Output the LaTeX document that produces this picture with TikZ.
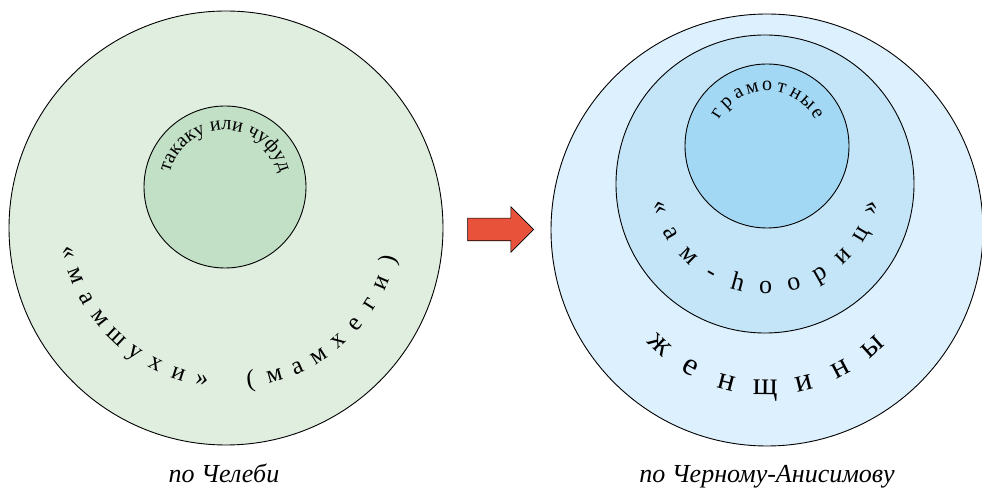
\documentclass[tikz,border=0pt]{standalone}
\usepackage{fontspec}
\setmainfont{Liberation Serif}
\usepackage{xcolor}
\usetikzlibrary{shapes.arrows, decorations.text}

\definecolor{greenout}{HTML}{DFEEDF}
\definecolor{greenin}{HTML}{C2E0C6}
\definecolor{blueout}{HTML}{DDF0FD}
\definecolor{bluemid}{HTML}{C4E5F8}
\definecolor{bluein}{HTML}{A2D8F4}
\definecolor{arrowred}{HTML}{E8513A}

\begin{document}
\begin{tikzpicture}[x=1pt, y=1pt,
    ring/.style={draw=black, line width=0.9pt},
    spaced/.style={anchor=base, inner sep=0pt, font=\fontsize{25}{27}\selectfont},
    caption/.style={anchor=base, inner sep=0pt, font=\fontsize{26}{28}\selectfont\itshape}]
    \useasboundingbox (0,0) rectangle (982,487);

    % left picture
    \coordinate (lc) at (226,259);
    \coordinate (li) at (225,300);
    \coordinate (lt) at (230,270);
    \draw [ring, fill=greenout] (lc) circle [radius=217];
    \draw [ring, fill=greenin] (li) circle [radius=81];
    \path [decorate, decoration={text along path, text align=center,
        text={|\fontsize{20}{22}\selectfont|такаку или чуфуд}}]
        ([shift={(172:57)}]li) arc [start angle=172, end angle=8, radius=57];
    \foreach \ch/\k in {«/0,м/1,а/2,м/3,ш/4,у/5,х/6,и/7,»/8,{(}/10,м/11,а/12,м/13,х/14,е/15,г/16,и/17,{)}/18}
        \node [spaced, rotate=192.5+\k*8.47+90] (m\k) at ([shift={(192.5+\k*8.47:171)}]lt) {\ch};
    \node [caption] (chelebi) at (224,5) {по Челеби};

    % arrow
    \node [single arrow, draw=black, line width=0.6pt, fill=arrowred, inner xsep=0pt, inner ysep=11pt,
        minimum height=66pt, minimum width=45pt, single arrow head extend=11.5pt] (arrow) at (495,257.5) {};

    % right picture
    \coordinate (rc) at (767,257);
    \coordinate (rm) at (765,303);
    \coordinate (ri) at (767,341);
    \coordinate (rt) at (766,309);
    \draw [ring, fill=blueout] (rc) circle [radius=216];
    \draw [ring, fill=bluemid] (rm) circle [radius=149];
    \draw [ring, fill=bluein] (ri) circle [radius=82];
    \foreach \ch [count=\k from 0] in {г,р,а,м,о,т,н,ы,е}
        \node [spaced, font=\fontsize{20}{22}\selectfont, rotate=147-\k*14.25-90] (g\k) at ([shift={(147-\k*14.25:55)}]ri) {\ch};
    \foreach \ch [count=\k from 0] in {«,а,м,-,h,о,о,р,и,ц,»}
        \node [spaced, font=\fontsize{26}{28}\selectfont, rotate=195.3+\k*14.9+90] (h\k) at ([shift={(195.3+\k*14.9:116)}]rt) {\ch};
    \foreach \ch [count=\k from 0] in {ж,е,н,щ,и,н,ы}
        \node [spaced, font=\fontsize{32}{34}\selectfont, rotate=226.8+\k*14.2+90] (w\k) at ([shift={(226.8+\k*14.2:165)}]rc) {\ch};
    \node [caption] (chernyi) at (767,5) {по Черному-Анисимову};
\end{tikzpicture}
\end{document}
